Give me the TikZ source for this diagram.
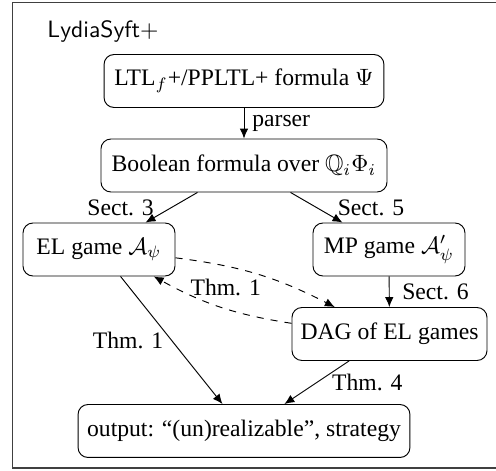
\documentclass[tikz,border=0pt]{standalone}
\usepackage{amssymb}
\usepackage{fontspec}
\setmainfont{Liberation Serif}
\usetikzlibrary{arrows.meta}
\begin{document}
\begin{tikzpicture}[x=0.423pt,y=-0.423pt,
  box/.style={draw, rounded corners=4.2pt, minimum height=22.4pt, inner sep=3.33pt, font=\fontsize{10}{12}\selectfont},
  arr/.style={-{Latex[length=4.2pt,width=3.6pt]}, line width=0.4pt},
  lbl/.style={font=\fontsize{10}{12}\selectfont, inner sep=3.33pt},
  frame/.style={draw=black!75, line width=0.55pt}]
\useasboundingbox (0,0) rectangle (496,471);
\draw[frame] (12.5,2.7) rectangle (520,468);
\node[anchor=base west, inner sep=0pt, font=\fontsize{10}{12}\sffamily] (title) at (47,38) {LydiaSyft$+$};
\node[box, minimum width=118.4pt] (ltl) at (244,81) {LTL$_f$+/PPLTL+ formula $\Psi$};
\node[box, minimum width=121pt] (bool) at (244,165.5) {Boolean formula over $\mathbb{Q}_i\Phi_i$};
\node[box, minimum width=64.3pt] (el) at (99,249.5) {EL game $\mathcal{A}_\psi$};
\node[box, minimum width=64.3pt] (mp) at (389,249.5) {MP game $\mathcal{A}'_\psi$};
\node[box, minimum width=82.5pt] (dag) at (389.5,334) {DAG of EL games};
\node[box, minimum width=140.4pt] (out) at (244,431) {output: “(un)realizable”, strategy};
\draw[arr] (ltl) -- node[lbl, right] {parser} (bool);
\draw[arr] (bool) -- node[lbl, left, xshift=-4pt] {Sect. 3} (el);
\draw[arr] (bool) -- node[lbl, right, xshift=5.5pt] {Sect. 5} (mp);
\draw[arr] (mp) -- node[lbl, right, xshift=2pt] {Sect. 6} (dag);
\draw[arr] (el) -- node[lbl, left] {Thm. 1} (out);
\draw[arr] (dag) -- node[lbl, right, xshift=3pt] {Thm. 4} (out);
\draw[arr, dashed] (el) to[bend left=10] (dag);
\draw[arr, dashed] (dag) to[bend left=10] node[lbl, pos=0.55, above, xshift=5pt] {Thm. 1} (el);
\end{tikzpicture}
\end{document}
